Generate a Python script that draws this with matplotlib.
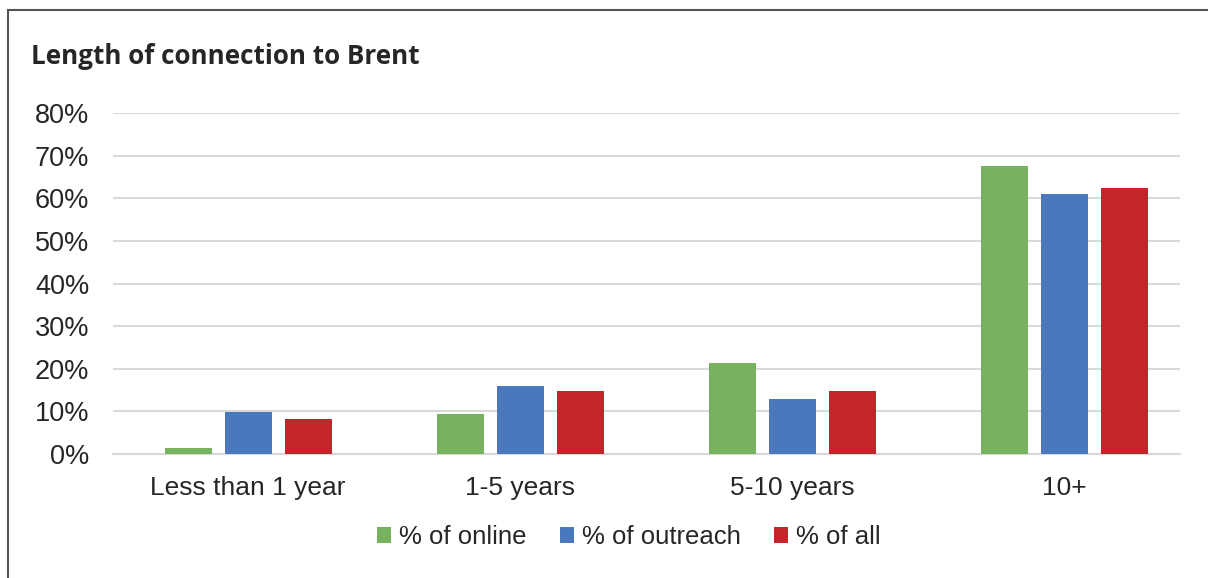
import matplotlib
matplotlib.use("Agg")
import matplotlib.pyplot as plt
import numpy as np
from matplotlib.patches import Rectangle, Patch

categories = ["Less than 1 year", "1-5 years", "5-10 years", "10+"]
series_names = ["% of online", "% of outreach", "% of all"]
online = [1.3, 9.5, 21.4, 67.5]
outreach = [9.9, 16.0, 12.9, 61.0]
all_resp = [8.2, 14.7, 14.7, 62.4]
y_ticks = [0, 10, 20, 30, 40, 50, 60, 70, 80]
title = "Length of connection to Brent"

colors = ["#77B25E", "#4A78BC", "#C3252A"]
text_color = "#262626"

plt.rcParams['font.family'] = ['Liberation Sans', 'DejaVu Sans']

fig = plt.figure(figsize=(12.08, 5.78), dpi=100)
ax = fig.add_axes([113/1208, 1-454/578, (1180-113)/1208, (454-113)/578])

spacing = 272.0
x = np.arange(len(categories))
bw = 47/spacing
step = 60/spacing
for i, (vals, c, name) in enumerate(zip([online, outreach, all_resp], colors, series_names)):
    ax.bar(x + (i-1)*step, vals, width=bw, color=c, label=name, zorder=3)

ax.set_xlim((113-248)/spacing, (1180-248)/spacing)
ax.set_ylim(0, 80)
ax.set_yticks(y_ticks)
ax.set_yticklabels([f"{v}%" for v in y_ticks])
ax.set_xticks(x)
ax.set_xticklabels(categories)
ax.tick_params(axis='y', length=0, pad=17, labelsize=19.5, labelcolor=text_color)
ax.tick_params(axis='x', length=0, pad=16, labelsize=19, labelcolor=text_color)
ax.grid(axis='y', color='#d9d9d9', linewidth=1.5, zorder=0)
for s in ['top', 'right', 'left']:
    ax.spines[s].set_visible(False)
ax.spines['bottom'].set_color('#d9d9d9')
ax.spines['bottom'].set_linewidth(1.5)

fig.text(31/1208, 1-57/578, title, fontsize=18.7, fontweight='bold', color=text_color,
         family=['Open Sans', 'DejaVu Sans'], va='center', ha='left')

handles = [Patch(facecolor=c) for c in colors]
fig.legend(handles, series_names, loc='center', bbox_to_anchor=(629/1208, 1-537/578),
           ncol=3, frameon=False, fontsize=18.5, handlelength=0.55, handleheight=0.55,
           handletextpad=0.3, columnspacing=1.3, labelcolor=text_color)

frame = Rectangle((8/1208, -0.1), 1.2, 1.1 - 10.5/578, transform=fig.transFigure,
                  fill=False, edgecolor='#555555', linewidth=1.5, clip_on=False)
fig.patches.append(frame)

fig.savefig("out.png", dpi=100)
